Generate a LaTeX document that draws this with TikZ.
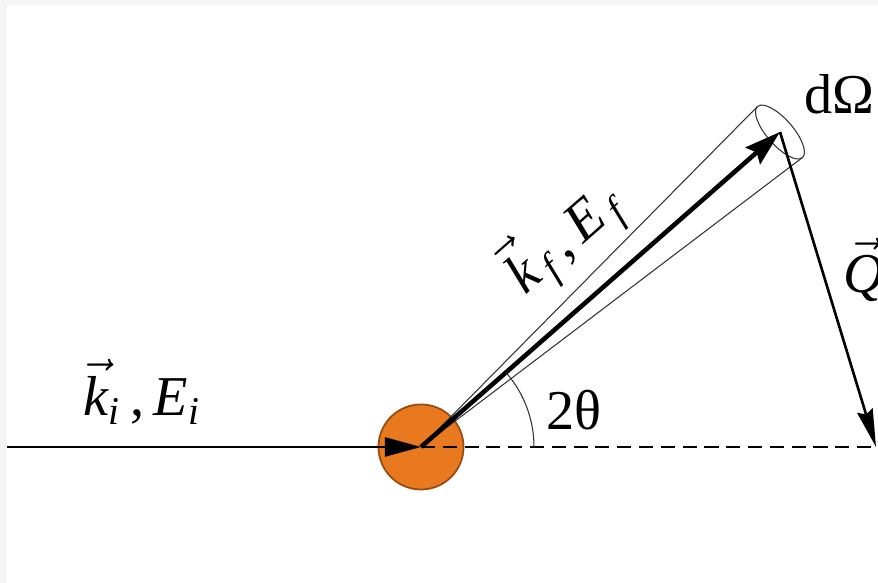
\documentclass[tikz,border=0pt]{standalone}
\usepackage{amsmath}
\usepackage{fontspec}
\setmainfont{Liberation Serif}
\usetikzlibrary{arrows.meta}
\definecolor{sample}{HTML}{E8791F}
\definecolor{sampleedge}{HTML}{9A4A10}

\begin{document}
\begin{tikzpicture}[x=0.01cm, y=0.01cm,
  target/.style={circle, minimum size=0.85cm, inner sep=0pt, fill=sample,
                 draw=sampleedge, line width=0.5pt},
  arrin/.style={-{Triangle[length=0.36cm, width=0.19cm]}, line width=0.7pt},
  arrkf/.style={-{Stealth[length=0.36cm, width=0.22cm, inset=0.05cm]}, line width=1.3pt},
  arrq/.style={-{Stealth[length=0.38cm, width=0.16cm, inset=0.04cm]}, line width=0.75pt},
  cone/.style={line width=0.3pt, color=black!80},
  base/.style={dash pattern=on 4pt off 2.2pt, line width=0.7pt},
  lbl/.style={font=\fontsize{16}{18}\selectfont, inner sep=1pt}
]

  % Frame
  \useasboundingbox (0,0) rectangle (878,583);
  \fill[gray!8] (0,0) rectangle (878,583);
  \fill[white] (7,0) rectangle (878,578);

  % Sample and fixed points
  \node[target] (sample) at (421,136) {};
  \coordinate (src) at (7,136);
  \coordinate (far) at (878,136);
  \coordinate (kf) at (780,451);
  \coordinate (qtip) at (876,136);
  \coordinate (rimA) at (757.6,476.6);
  \coordinate (rimB) at (802.4,425.4);

  % Beam axis
  \draw[base] (sample.center) -- (far);
  \draw[arrin] (src) -- (sample.center);

  % Solid angle cone
  \draw[cone] (sample.center) -- (rimA);
  \draw[cone] (sample.center) -- (rimB);
  \draw[cone, rotate around={41.26:(kf)}] (kf) ellipse[x radius=13, y radius=34];

  % Scattered beam and momentum transfer
  \draw[arrkf] (sample.center) -- (kf);
  \draw[arrq] (kf) -- (qtip);

  % Scattering angle
  \draw[cone] (sample.center) ++(113,0) arc[start angle=0, end angle=41.26, radius=113];

  % Labels
  \node[lbl] (lki) at (142,191) {$\vec{\textit{k}}_{\textit{i}}$\,,\,\textit{E}$_{\textit{i}}$};
  \node[lbl, rotate=41.26] (lkf) at (562,345) {$\vec{\textit{k}}_{\,\textit{f}}$\,,\,\textit{E}$_{\,\textit{f}}$};
  \node[lbl] (lang) at (574,173) {2θ};
  \node[lbl] (lom) at (839,489) {dΩ};
  \node[lbl] (lq) at (864,313) {$\vec{\textit{Q}}$};

\end{tikzpicture}
\end{document}
